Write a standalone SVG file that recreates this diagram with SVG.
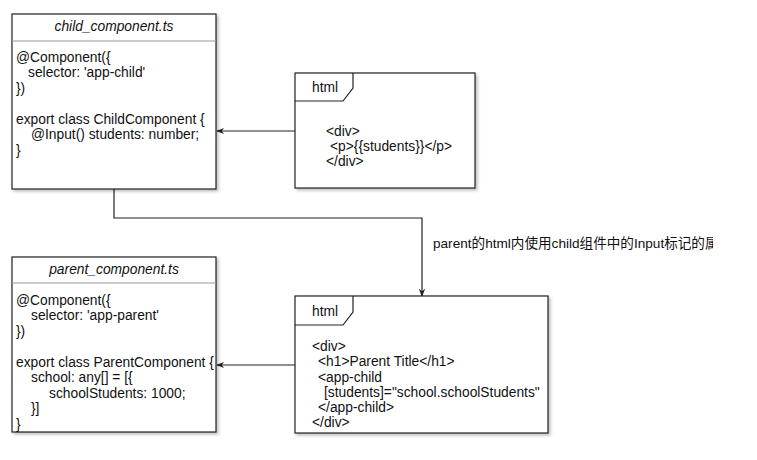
<svg xmlns="http://www.w3.org/2000/svg" width="757" height="460" viewBox="0 0 757 460">
<style>
text{font-family:"Liberation Sans",Arial,"Noto Sans CJK SC",sans-serif;font-size:13.8px;fill:#111}
.t{font-style:italic;text-anchor:middle}
.box{fill:#fff;stroke:#222;stroke-width:1.2}
.sep{stroke:#999;stroke-width:1}
.edge{fill:none;stroke:#222;stroke-width:1.2}
.lbl{font-size:13.6px}
</style>
<defs>
<filter id="sh" x="-10%" y="-10%" width="130%" height="130%">
<feDropShadow dx="2" dy="2" stdDeviation="1.5" flood-color="#000" flood-opacity="0.25"/>
</filter>
<marker id="ar" viewBox="0 0 10 10" refX="9" refY="5" markerWidth="8" markerHeight="8" orient="auto" markerUnits="userSpaceOnUse">
<path d="M0,1 L10,5 L0,9 L3,5 Z" fill="#222"/>
</marker>
<clipPath id="lc"><rect x="420" y="225" width="293" height="30"/></clipPath>
</defs>
<g id="edges">
<path class="edge" d="M295,131 L217,131" marker-end="url(#ar)"/>
<path class="edge" d="M295,365 L217,365" marker-end="url(#ar)"/>
<path class="edge" d="M114,189 L114,218 L422,218 L422,296" marker-end="url(#ar)"/>
<text class="lbl" x="433" y="248" clip-path="url(#lc)">parent的html内使用child组件中的Input标记的属</text>
</g>
<g id="child">
<rect class="box" x="12" y="14" width="204" height="175" filter="url(#sh)"/>
<line class="sep" x1="12" y1="41" x2="216" y2="41"/>
<text class="t" x="114" y="31">child_component.ts</text>
<text x="16" y="62">@Component({</text>
<text x="28" y="77">selector: 'app-child'</text>
<text x="16" y="93">})</text>
<text x="16" y="124">export class ChildComponent {</text>
<text x="31" y="139">@Input() students: number;</text>
<text x="16" y="155">}</text>
</g>
<g id="childhtml">
<rect class="box" x="295" y="73" width="180" height="115" filter="url(#sh)"/>
<path class="edge" d="M295,101 L343,101 L353,88 L353,73"/>
<text x="312" y="92">html</text>
<text x="326" y="136">&lt;div&gt;</text>
<text x="330" y="151">&lt;p&gt;{{students}}&lt;/p&gt;</text>
<text x="326" y="166">&lt;/div&gt;</text>
</g>
<g id="parent">
<rect class="box" x="12" y="257" width="204" height="175" filter="url(#sh)"/>
<line class="sep" x1="12" y1="283" x2="216" y2="283"/>
<text class="t" x="114" y="274">parent_component.ts</text>
<text x="16" y="305">@Component({</text>
<text x="31" y="320">selector: 'app-parent'</text>
<text x="16" y="336">})</text>
<text x="16" y="367">export class ParentComponent {</text>
<text x="31" y="382">school: any[] = [{</text>
<text x="49" y="398">schoolStudents: 1000;</text>
<text x="31" y="413">}]</text>
<text x="16" y="429">}</text>
</g>
<g id="parenthtml">
<rect class="box" x="295" y="296" width="253" height="137" filter="url(#sh)"/>
<path class="edge" d="M295,325 L343,325 L353,312 L353,296"/>
<text x="312" y="316">html</text>
<text x="312" y="351">&lt;div&gt;</text>
<text x="318" y="366">&lt;h1&gt;Parent Title&lt;/h1&gt;</text>
<text x="318" y="382">&lt;app-child</text>
<text x="324" y="397">[students]="school.schoolStudents"</text>
<text x="318" y="412">&lt;/app-child&gt;</text>
<text x="312" y="427">&lt;/div&gt;</text>
</g>
</svg>
